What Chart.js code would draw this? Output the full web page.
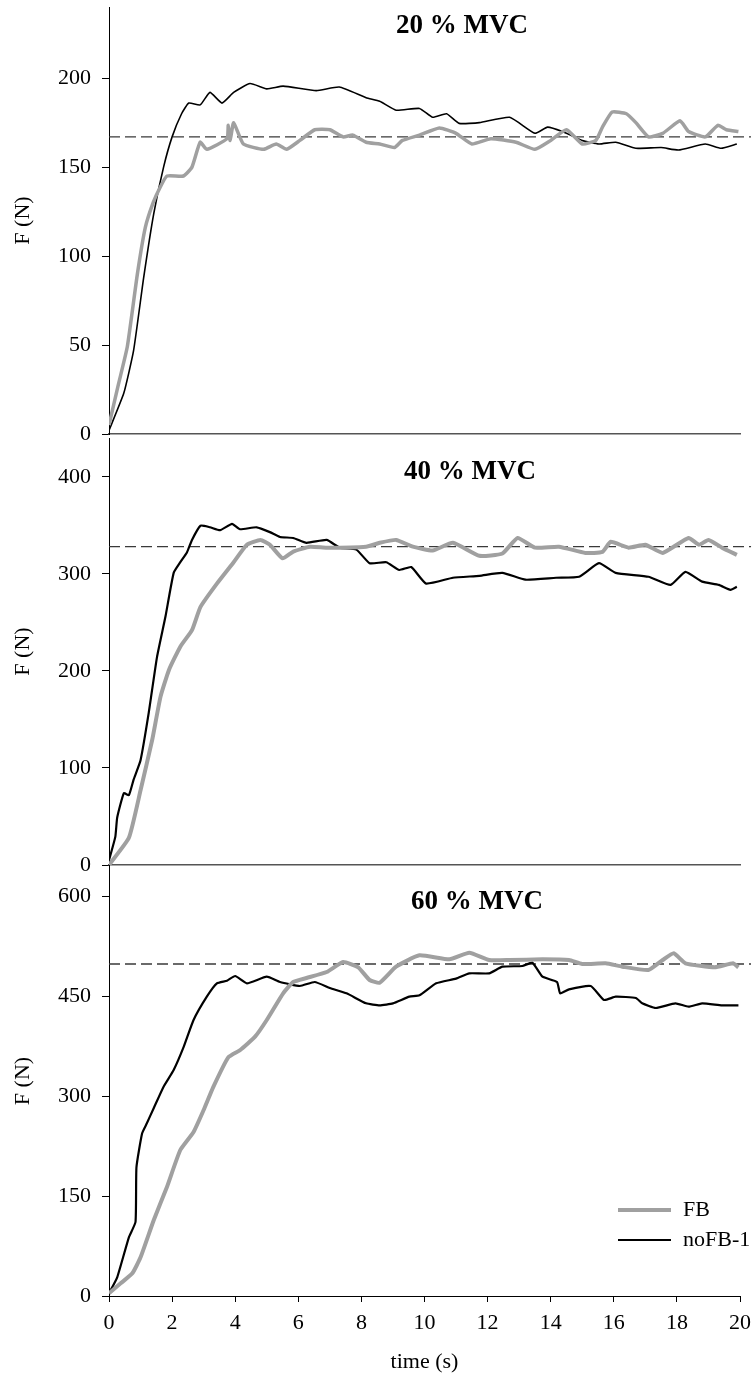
<!DOCTYPE html>
<html>
<head>
<meta charset="utf-8">
<script src="https://cdn.jsdelivr.net/npm/chart.js@4"></script>
<style>
  body { margin: 0; background: #fff; }
  .panel { position: absolute; left: 0; width: 756px; }
</style>
</head>
<body>
<div class="panel" style="top:0;height:450px"><canvas id="chart-20"></canvas></div>
<div class="panel" style="top:430px;height:450px"><canvas id="chart-40"></canvas></div>
<div class="panel" style="top:856px;height:517px"><canvas id="chart-60"></canvas></div>
<script>
// 20 % MVC
const fbTime20 = [0, 0.3, 0.58, 0.9, 1.15, 1.4, 1.63, 1.84, 2.36, 2.63, 2.89, 3.1, 3.74, 3.78, 3.84, 3.95, 4.26, 4.9, 5.3, 5.63, 6.05, 6.52, 7.0, 7.42, 7.73, 8.15, 8.58, 9.05, 9.3, 9.84, 10.47, 11.0, 11.5, 12.1, 12.9, 13.5, 14.0, 14.5, 15.0, 15.43, 15.64, 15.95, 16.4, 16.7, 17.1, 17.55, 18.1, 18.37, 18.9, 19.3, 19.57, 19.95];
const fb20 = [5, 28, 49, 90, 116, 130, 139, 145, 145, 150, 164, 160, 166, 173.5, 165, 175, 163, 160, 163, 160, 165, 171, 171, 167, 168, 164, 163, 161, 165, 168, 172, 169, 163, 166, 164, 160, 165, 171, 163, 165, 172.5, 181, 180, 175, 167, 169, 176, 170, 167, 173.5, 171, 170];
const nofbTime20 = [0, 0.47, 0.78, 1.1, 1.42, 1.73, 2.0, 2.3, 2.53, 2.89, 3.2, 3.58, 3.95, 4.47, 5.0, 5.52, 6.57, 7.3, 8.15, 8.58, 9.1, 9.84, 10.26, 10.7, 11.1, 11.74, 12.7, 13.5, 13.9, 14.37, 15.0, 15.53, 16.06, 16.7, 17.5, 18.05, 18.9, 19.4, 19.9];
const nofb20 = [2, 23, 47, 88, 124, 150, 167, 180, 186, 185, 192, 186, 192, 197, 194, 195.5, 193, 195, 189, 187, 182, 183, 178, 180, 174.6, 175, 178, 169, 172.5, 170, 165, 163, 164, 160.6, 161, 159.6, 163, 160.6, 163];
const target20 = 167;

// 40 % MVC
const fbTime40 = [0, 0.63, 1.0, 1.37, 1.63, 1.9, 2.26, 2.63, 2.9, 3.42, 3.95, 4.37, 4.8, 5.1, 5.5, 5.84, 6.37, 6.9, 8.15, 8.58, 9.1, 9.63, 10.26, 10.9, 11.74, 12.47, 12.95, 13.5, 14.26, 15.1, 15.64, 15.9, 16.47, 17.0, 17.55, 18.37, 18.7, 19.0, 19.43, 19.9];
const fb40 = [0, 28, 77, 129, 173, 201, 225, 242, 266, 290, 312, 330, 335, 330, 316, 323, 328, 327, 328, 332, 335, 328, 324, 332, 318.6, 321, 337, 327, 328, 321.6, 322.6, 333, 327, 330, 321.6, 337, 330, 335, 327, 319.6];
const nofbTime40 = [0, 0.2, 0.26, 0.47, 0.63, 0.78, 1.0, 1.26, 1.52, 1.79, 2.05, 2.26, 2.47, 2.63, 2.9, 3.2, 3.52, 3.9, 4.15, 4.68, 5.1, 5.42, 5.84, 6.26, 6.9, 7.31, 7.84, 8.26, 8.79, 9.2, 9.58, 10.05, 10.9, 11.74, 12.47, 13.2, 14.17, 14.9, 15.53, 16.06, 17.1, 17.8, 18.27, 18.8, 19.33, 19.7, 19.9];
const nofb40 = [5, 29, 49, 74, 72, 88, 108, 157, 214, 256, 301, 312, 322, 335, 349.6, 348, 345, 351.5, 346, 348, 343, 338, 337, 332, 335, 327, 325, 311, 312, 304, 307, 290, 296, 298, 301, 294, 296, 297, 311, 301, 297, 288.6, 302, 292, 288.6, 283.5, 286.6];
const target40 = 328;

// 60 % MVC
const fbTime60 = [0, 0.37, 0.74, 1.0, 1.42, 1.84, 2.26, 2.68, 3.0, 3.3, 3.78, 4.16, 4.63, 5.0, 5.52, 5.84, 6.26, 6.9, 7.42, 7.9, 8.26, 8.58, 9.1, 9.84, 10.79, 11.42, 12.05, 12.7, 13.74, 14.58, 15.0, 15.74, 16.27, 17.1, 17.55, 17.9, 18.27, 19.2, 19.78, 19.95];
const fb60 = [4, 19, 34, 58, 114, 164, 219, 246, 279, 313, 358, 369, 389, 414, 454, 471, 477, 486, 501, 493, 474, 470, 494, 511, 505, 515, 504, 504, 505, 504, 498, 499, 494, 489, 504, 514, 499, 493, 499, 493];
const nofbTime60 = [0, 0.26, 0.63, 0.84, 0.87, 1.05, 1.2, 1.42, 1.73, 2.05, 2.37, 2.68, 3.1, 3.42, 3.74, 4.0, 4.37, 5.0, 5.42, 6.05, 6.52, 7.0, 7.53, 8.15, 8.58, 9.0, 9.52, 9.84, 10.37, 11.0, 11.42, 12.05, 12.47, 13.1, 13.42, 13.74, 14.2, 14.3, 14.58, 15.27, 15.69, 16.06, 16.7, 16.9, 17.33, 17.95, 18.37, 18.8, 19.43, 19.95];
const nofb60 = [4, 28, 88, 111, 193, 244, 259, 282, 314, 339, 374, 414, 449, 469, 473, 480, 469, 479, 471, 465, 471, 462, 454, 439, 436, 439, 449, 451, 469, 476, 484, 484, 494, 495, 500, 479, 471, 454, 460, 465, 444, 449, 447, 439, 432, 439, 434, 439, 436, 436];
const target60 = 498;

const seriesLabels = ['FB', 'noFB-1'];
const xTicks = [0, 2, 4, 6, 8, 10, 12, 14, 16, 18, 20];
// dashed target line runs a little past the last tick
const targetSpan = [0, 20.35];

const serif = '"Liberation Serif", "Times New Roman", serif';

function points(xs, ys) {
  return xs.map((x, i) => ({ x: x, y: ys[i] }));
}

// panel title and legend drawn in the chart area
const panelText = {
  id: 'panelText',
  afterDraw(chart, args, opts) {
    const ctx = chart.ctx;
    const area = chart.chartArea;
    ctx.save();
    ctx.fillStyle = '#000';
    ctx.font = 'bold 27px ' + serif;
    ctx.textAlign = 'center';
    ctx.textBaseline = 'middle';
    ctx.fillText(opts.title, opts.titleX, area.top + opts.titleDy);
    if (opts.legend) {
      ctx.font = '22px ' + serif;
      ctx.textAlign = 'left';
      chart.data.datasets.slice(0, 2).forEach((ds, i) => {
        const y = opts.legendY + i * 30;
        ctx.strokeStyle = ds.borderColor;
        ctx.lineWidth = ds.borderWidth;
        ctx.beginPath();
        ctx.moveTo(618, y);
        ctx.lineTo(671, y);
        ctx.stroke();
        ctx.fillText(ds.label, 683, y);
      });
    }
    ctx.restore();
  }
};

function makePanel(id, o) {
  const canvas = document.getElementById(id);
  const config = {
    type: 'line',
    data: {
      datasets: [
        {
          label: seriesLabels[0],
          data: points(o.fbTime, o.fb),
          borderColor: '#a0a0a0',
          borderWidth: o.fbWidth,
          pointRadius: 0,
          tension: 0.15
        },
        {
          label: seriesLabels[1],
          data: points(o.nofbTime, o.nofb),
          borderColor: '#000',
          borderWidth: o.nofbWidth,
          pointRadius: 0,
          tension: 0.15
        },
        {
          label: 'target',
          data: targetSpan.map(x => ({ x: x, y: o.target })),
          borderColor: '#3a3a3a',
          borderWidth: 1.3,
          borderDash: [11, 5],
          pointRadius: 0,
          clip: 14
        }
      ]
    },
    options: {
      responsive: true,
      maintainAspectRatio: false,
      animation: false,
      layout: { padding: { top: o.padTop, right: 16, left: 0, bottom: 0 } },
      plugins: {
        legend: { display: false },
        tooltip: { enabled: false },
        panelText: { title: o.title, titleX: o.titleX, titleDy: o.titleDy, legend: o.legend, legendY: o.legendY }
      },
      scales: {
        x: {
          type: 'linear',
          min: 0,
          max: 20,
          afterFit: s => {
            s.height = o.xHeight;
            s.paddingLeft = 0;
            s.paddingRight = 0;
          },
          afterBuildTicks: s => { s.ticks = xTicks.map(v => ({ value: v })); },
          grid: { display: o.xLabels, drawOnChartArea: false, tickLength: 6, color: '#000' },
          border: { display: true, color: o.xLabels ? '#000' : '#555', width: o.xLabels ? 1 : 1.6 },
          ticks: { display: o.xLabels, color: '#000', padding: 8, maxRotation: 0, font: { family: serif, size: 22 } },
          title: {
            display: o.xLabels,
            text: 'time (s)',
            color: '#000',
            padding: { top: 0, bottom: -2 },
            font: { family: serif, size: 22 }
          }
        },
        y: {
          min: 0,
          max: o.yMax,
          afterFit: s => {
            s.width = 109;
            s.paddingTop = 0;
            s.paddingBottom = 0;
          },
          grid: { drawOnChartArea: false, tickLength: 7, color: '#000' },
          border: { display: true, color: '#000', width: 1 },
          ticks: {
            stepSize: o.yStep,
            includeBounds: false,
            color: '#000',
            padding: 11,
            font: { family: serif, size: 22 }
          },
          title: {
            display: true,
            text: 'F (N)',
            color: '#000',
            padding: { top: 10, bottom: 0 },
            font: { family: serif, size: 22 }
          }
        }
      }
    },
    plugins: [panelText]
  };
  return new Chart(canvas, config);
}

makePanel('chart-20', {
  fbTime: fbTime20, fb: fb20, nofbTime: nofbTime20, nofb: nofb20, target: target20,
  fbWidth: 3.5, nofbWidth: 1.6, yMax: 240, yStep: 50, padTop: 7, xHeight: 16,
  xLabels: false, title: '20 % MVC', titleX: 462, titleDy: 19, legend: false
});

makePanel('chart-40', {
  fbTime: fbTime40, fb: fb40, nofbTime: nofbTime40, nofb: nofb40, target: target40,
  fbWidth: 4, nofbWidth: 2.2, yMax: 440, yStep: 100, padTop: 8, xHeight: 15,
  xLabels: false, title: '40 % MVC', titleX: 470, titleDy: 34, legend: false
});

makePanel('chart-60', {
  fbTime: fbTime60, fb: fb60, nofbTime: nofbTime60, nofb: nofb60, target: target60,
  fbWidth: 4, nofbWidth: 2.2, yMax: 645, yStep: 150, padTop: 10, xHeight: 77,
  xLabels: true, title: '60 % MVC', titleX: 477, titleDy: 36, legend: true, legendY: 1210 - 856
});
</script>
</body>
</html>
